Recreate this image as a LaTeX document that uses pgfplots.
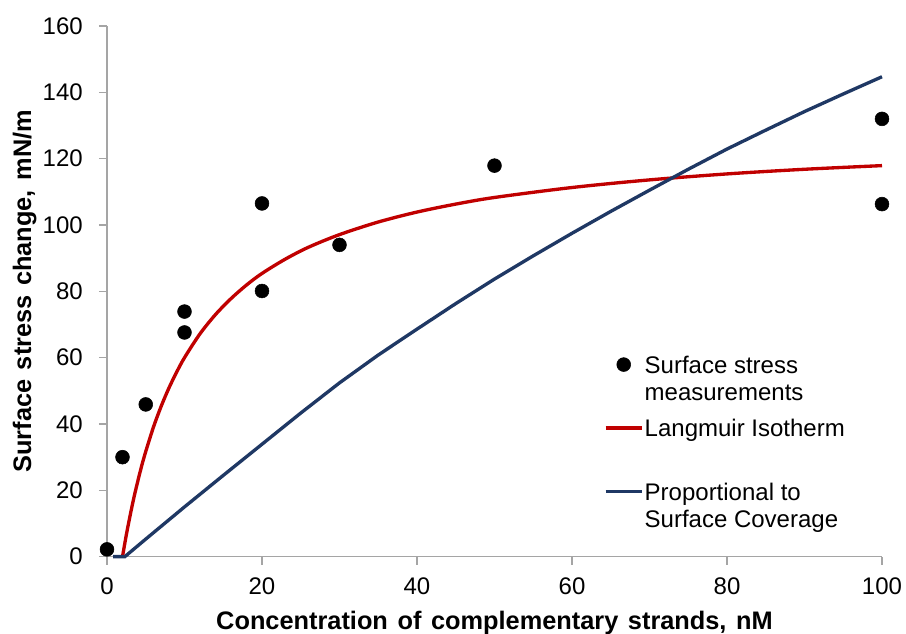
\documentclass[border=0pt]{standalone}
\usepackage{fontspec}
\setmainfont{Liberation Sans}
\usepackage{pgfplots}
\pgfplotsset{compat=1.18}
\definecolor{lred}{RGB}{192,0,0}
\definecolor{lblue}{RGB}{31,56,100}
\definecolor{axgray}{RGB}{165,165,165}
\newcommand{\lt}[2]{\begin{tabular}[t]{@{}l@{}}#1\\#2\end{tabular}}
\newcommand{\lsp}{\hspace{0.38em}}
\pgfplotsset{
  legline/.style={legend image code/.code={\draw[##1] (0pt,6.4pt) -- (27pt,6.4pt);}},
  legmark/.style={legend image code/.code={\draw[##1] plot coordinates {(13.5pt,6.4pt)};}},
}
\begin{document}
\begin{tikzpicture}[font=\fontsize{18}{20.25}\selectfont]
\useasboundingbox (-80.25pt,-58pt) rectangle (599.25pt,417.5pt);
\begin{axis}[
  at={(0,0)}, anchor=south west,
  scale only axis, width=581.25pt, height=398pt,
  xmin=0, xmax=100, ymin=0, ymax=160,
  xtick={0,20,...,100}, ytick={0,20,...,160},
  axis lines*=left,
  axis line style={-, axgray, line width=0.9pt},
  tick style={axgray, line width=0.9pt},
  tick align=outside, major tick length=6pt,
  /pgf/number format/assume math mode=true,
  yticklabel style={inner sep=0pt, xshift=-12pt},
  xticklabel style={inner sep=0pt, yshift=-9.75pt},
  xlabel={Concentration\lsp of\lsp complementary\lsp strands,\lsp nM},
  ylabel={Surface\lsp stress\lsp change,\lsp mN/m},
  label style={font=\bfseries\fontsize{19}{22}\selectfont, inner sep=0pt},
  xlabel shift=12pt, ylabel shift=4.5pt,
  clip=false,
  legend cell align=left,
  legend style={at={(0.641,0.382)}, anchor=north west, draw=none, fill=none,
    inner sep=0pt, row sep=7.1pt, column sep=1pt,
    nodes={inner sep=0pt, text depth=}, cells={anchor=base west}},
]
\addplot[only marks, mark=*, mark size=5.2pt, black, legmark]
coordinates {
(0,2.2) (2,30.0) (5,45.9) (10,73.9) (10,67.6) (20,106.5) (20,80.1)
(30,94.0) (50,117.9) (100,132.0) (100,106.3)
};
\addlegendentry{\lt{Surface stress}{measurements}}
\addplot[lred, line width=2.5pt, smooth, legline]
coordinates {
(2,0) (2.5,6.65) (3,12.6) (3.5,18.1) (4,23.0) (4.5,27.6) (5,31.7) (6,39.1)
(7,45.4) (8,50.9) (9,55.7) (10,60.0) (12,67.2) (14,73.0) (16,77.8) (18,81.9)
(20,85.4) (23,89.7) (26,93.3) (30,97.1) (35,100.9) (40,103.9) (45,106.3)
(50,108.3) (60,111.3) (70,113.6) (80,115.4) (90,116.8) (100,117.9)
};
\addlegendentry{\lt{Langmuir Isotherm}{\strut}}
\addplot[lblue, line width=2.5pt, legline]
coordinates {
(0.8,0) (2.3,0) (5,5.3) (10,15) (15,24.5) (20,33.9) (25,43.3) (30,52.4)
(35,60.8) (40,68.6) (45,76.3) (50,83.7) (55,90.7) (60,97.5) (65,104.1)
(70,110.5) (75,116.8) (80,122.9) (85,128.6) (90,134.2) (95,139.5) (100,144.7)
};
\addlegendentry{\lt{Proportional to}{Surface Coverage}}
\end{axis}
\end{tikzpicture}
\end{document}
